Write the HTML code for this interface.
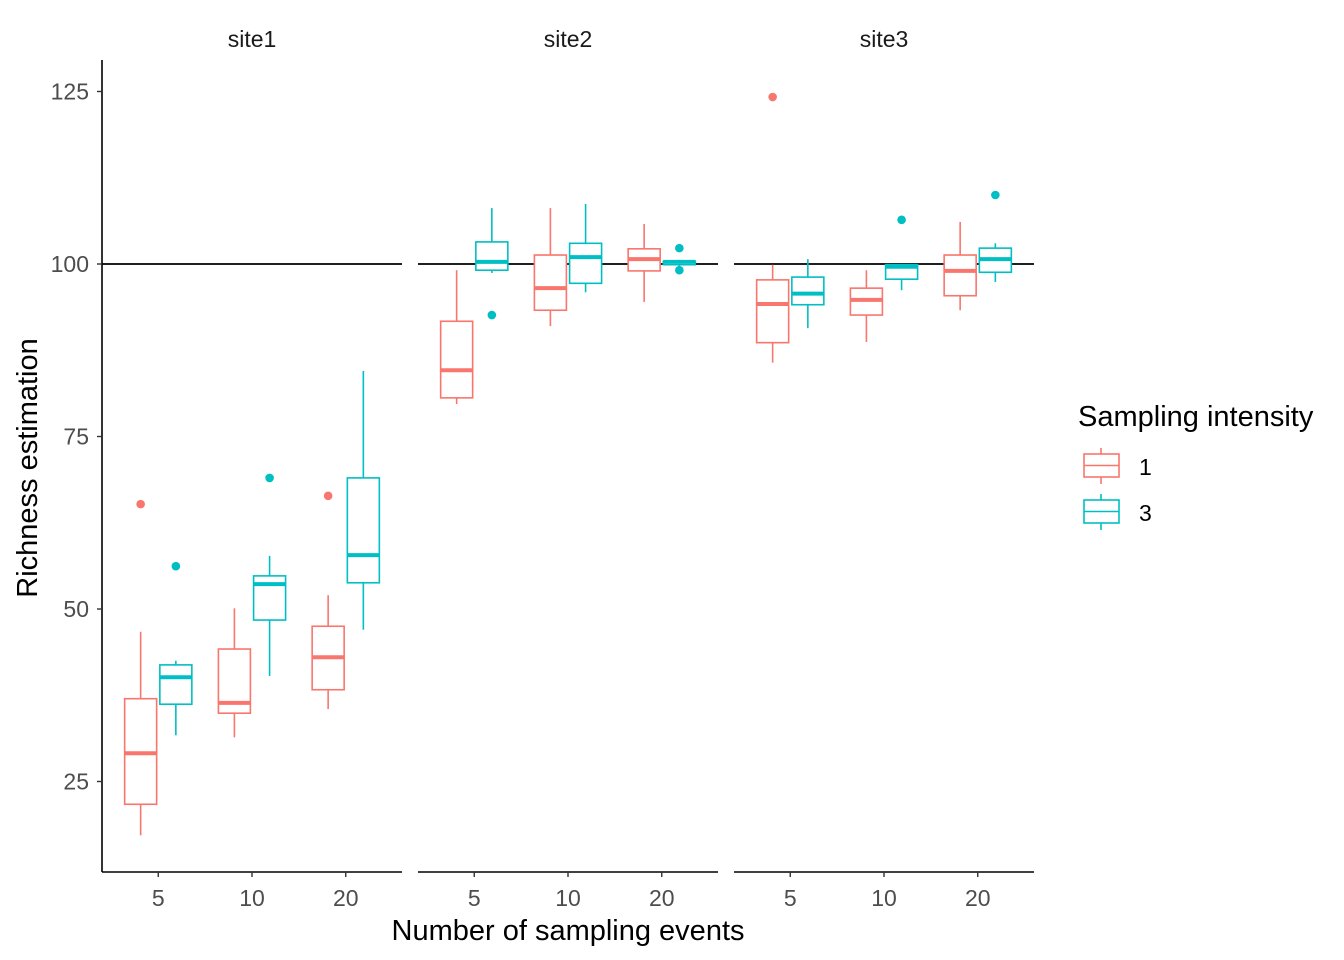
<!DOCTYPE html>
<html><head><meta charset="utf-8"><style>
body{margin:0;background:#fff}
svg{display:block;font-family:"Liberation Sans",Arial,sans-serif}
</style></head><body>
<svg id="chart" width="1344" height="960" xmlns="http://www.w3.org/2000/svg"></svg>
<script>
const sites = ["site1","site2","site3"];
const categories = ["5","10","20"];
const groups = ["1","3"];
const yTicks = [25,50,75,100,125];
// stats per site -> category -> group: [lower, q1, median, q3, upper]
const site1Red = [[17.2,21.7,29.1,37.0,46.7],[31.4,34.9,36.4,44.2,50.1],[35.5,38.3,43.0,47.5,52.0]];
const site1Blue = [[31.7,36.2,40.1,41.9,42.5],[40.3,48.4,53.6,54.8,57.7],[47.0,53.8,57.8,69.0,84.5]];
const site2Red = [[79.7,80.6,84.6,91.7,99.1],[91.0,93.3,96.5,101.3,108.1],[94.5,99.0,100.7,102.2,105.8]];
const site2Blue = [[98.7,99.1,100.3,103.2,108.1],[95.9,97.2,101.0,103.0,108.7],[99.7,99.9,100.3,100.4,100.6]];
const site3Red = [[85.7,88.6,94.2,97.7,99.9],[88.7,92.6,94.8,96.5,99.1],[93.3,95.4,99.0,101.3,106.1]];
const site3Blue = [[90.7,94.1,95.7,98.1,100.7],[96.2,97.8,99.6,99.9,100.0],[97.4,98.8,100.7,102.3,103.0]];
// outliers: [siteIndex, catIndex, groupIndex, value]
const outliers = [[0,0,0,65.2],[0,0,1,56.2],[0,1,1,69.0],[0,2,0,66.4],[1,0,1,92.6],[1,2,1,102.3],[1,2,1,99.1],[2,0,0,124.2],[2,1,1,106.4],[2,2,1,110.0]];
const refLine = 100;

const svg = document.getElementById('chart');
const NS = "http://www.w3.org/2000/svg";
const colors = ["#F8766D","#00BFC4"];
const panelX = [102,418,734], panelW = 300;
const yScale = v => 264 - (v-100)*6.9;
const xScale = (p,c) => panelX[p] + (0.6 + c)*93.75;
function mk(tag, attrs, parent){const e=document.createElementNS(NS,tag);for(const k in attrs)e.setAttribute(k,attrs[k]);(parent||svg).appendChild(e);return e;}
function txt(s, attrs){const e=mk('text',attrs);e.textContent=s;return e;}

const allStats=[[site1Red,site1Blue],[site2Red,site2Blue],[site3Red,site3Blue]];
sites.forEach((s,p)=>{
  const t=txt(s,{x:panelX[p]+150,y:47,'text-anchor':'middle','font-size':'23',fill:'#1a1a1a'});
  
  
  const ln=mk('line',{x1:panelX[p],x2:panelX[p]+panelW,y1:872,y2:872,stroke:'#000','stroke-width':1.6});
  
  
  categories.forEach((c,ci)=>{
    const x=xScale(p,ci);
    mk('line',{x1:x,x2:x,y1:872,y2:877,stroke:'#333','stroke-width':1.4});
    const l=txt(c,{x:x,y:906,'text-anchor':'middle','font-size':'23',fill:'#4d4d4d'});
    
    
  });
  const rl=mk('line',{x1:panelX[p],x2:panelX[p]+panelW,y1:yScale(refLine),y2:yScale(refLine),stroke:'#000','stroke-width':1.8});
  
  
  groups.forEach((g,gi)=>{
    categories.forEach((c,ci)=>{
      const st=allStats[p][gi][ci];
      const cx=xScale(p,ci)+(gi===0?-17.6:17.6);
      const w=32, col=colors[gi];
      const gEl=mk('g',{});
      
      
      mk('line',{x1:cx,x2:cx,y1:yScale(st[4]),y2:yScale(st[3]),stroke:col,'stroke-width':1.6},gEl);
      mk('line',{x1:cx,x2:cx,y1:yScale(st[1]),y2:yScale(st[0]),stroke:col,'stroke-width':1.6},gEl);
      mk('rect',{x:cx-w/2,y:yScale(st[3]),width:w,height:Math.max(0.5,yScale(st[1])-yScale(st[3])),fill:'#fff',stroke:col,'stroke-width':1.6},gEl);
      mk('line',{x1:cx-w/2,x2:cx+w/2,y1:yScale(st[2]),y2:yScale(st[2]),stroke:col,'stroke-width':4},gEl);
    });
  });
});
outliers.forEach(o=>{
  const cx=xScale(o[0],o[1])+(o[2]===0?-17.6:17.6);
  const d=mk('circle',{cx:cx,cy:yScale(o[3]),r:4.3,fill:colors[o[2]]});
  
  
});
const ya=mk('line',{x1:102,x2:102,y1:60,y2:872,stroke:'#000','stroke-width':1.6});


yTicks.forEach(v=>{
  mk('line',{x1:97,x2:102,y1:yScale(v),y2:yScale(v),stroke:'#333','stroke-width':1.4});
  const l=txt(String(v),{x:89,y:yScale(v)+8,'text-anchor':'end','font-size':'23',fill:'#4d4d4d'});
  
  
});
</script>
<svg style="position:absolute;left:0;top:0" width="1344" height="960" xmlns="http://www.w3.org/2000/svg" font-family="Liberation Sans, Arial, sans-serif">
<text transform="translate(37,468) rotate(-90)" text-anchor="middle" font-size="29" fill="#000">Richness estimation</text>
<text x="568" y="940" text-anchor="middle" font-size="29" fill="#000">Number of sampling events</text>
<g>
<text x="1078" y="426" font-size="29" fill="#000">Sampling intensity</text>
<g>
<line x1="1101" x2="1101" y1="448" y2="484" stroke="#F8766D" stroke-width="1.6"/>
<rect x="1084" y="454" width="35" height="23" fill="#fff" stroke="#F8766D" stroke-width="1.6"/>
<line x1="1084" x2="1119" y1="465.5" y2="465.5" stroke="#F8766D" stroke-width="1.6"/>
<text x="1139" y="475" font-size="23" fill="#000">1</text></g>
<g>
<line x1="1101" x2="1101" y1="494" y2="530" stroke="#00BFC4" stroke-width="1.6"/>
<rect x="1084" y="500" width="35" height="23" fill="#fff" stroke="#00BFC4" stroke-width="1.6"/>
<line x1="1084" x2="1119" y1="511.5" y2="511.5" stroke="#00BFC4" stroke-width="1.6"/>
<text x="1139" y="521" font-size="23" fill="#000">3</text></g>
</g>
</svg>
</body></html>
